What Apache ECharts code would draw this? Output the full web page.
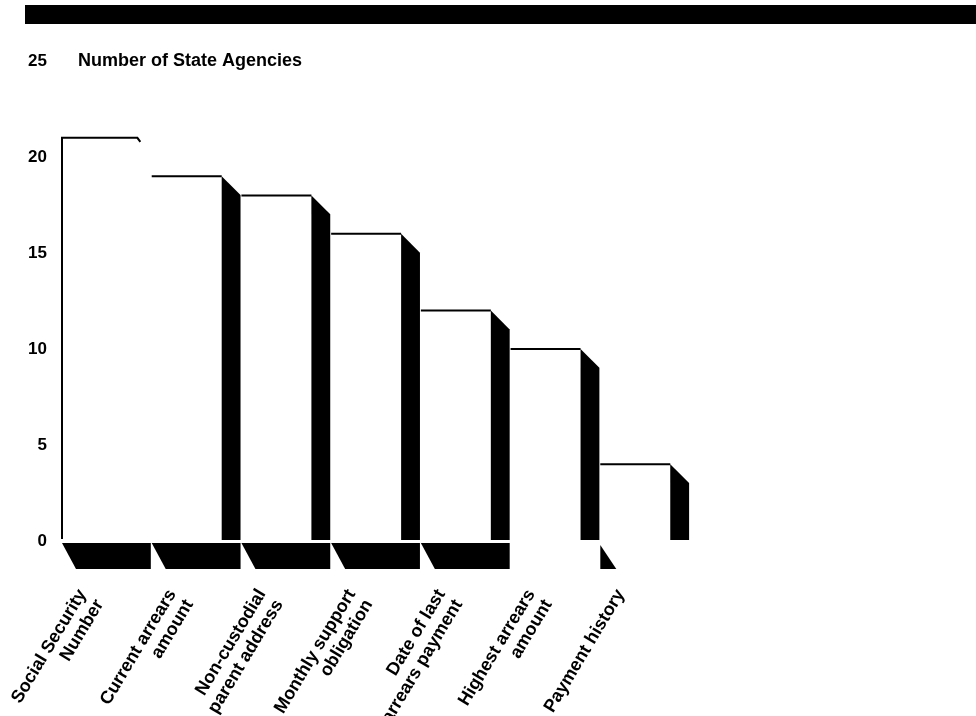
<!DOCTYPE html>
<html>
<head>
<meta charset="utf-8">
<script src="https://cdn.jsdelivr.net/npm/echarts@6/dist/echarts.min.js"></script>
<style>
  html, body { margin: 0; padding: 0; background: #fff; }
  #chart { width: 976px; height: 716px; }
</style>
</head>
<body>
<div id="chart"></div>
<script>
let categories = [
  "Social Security\nNumber",
  "Current arrears\namount",
  "Non-custodial\nparent address",
  "Monthly support\nobligation",
  "Date of last\narrears payment",
  "Highest arrears\namount",
  "Payment history",
];
let agencies = [21, 19, 18, 16, 12, 10, 4];
let yTitle = "Number of State Agencies";

let font = "Liberation Sans";

// 3d-ish bar : white front with a top edge, black side, black floor shadow
// (in the scan the first side and the last floors got lost, kept like that)
let renderBar = function (params, api) {
  let i = api.value(0);
  let top = api.coord([i, api.value(1)]);
  let base = api.coord([i, 0]);
  let band = api.size([1, 0])[0];
  let x0 = top[0] - band / 2;
  let front = band * 0.78;
  let side = band * 0.21;
  let children = [];

  if (i === 0) {
    // first bar has no side, its front is a bit wider
    let w = band * 0.84;
    children.push({
      type: "polyline",
      shape: {
        points: [
          [x0, base[1] - 2],
          [x0, top[1]],
          [x0 + w, top[1]],
          [x0 + w + 3, top[1] + 4],
        ],
      },
      style: { stroke: "#000", lineWidth: 2, fill: null },
    });
  } else {
    children.push({
      type: "line",
      shape: { x1: x0, y1: top[1], x2: x0 + front, y2: top[1] },
      style: { stroke: "#000", lineWidth: 2 },
    });
    children.push({
      type: "polygon",
      shape: {
        points: [
          [x0 + front, top[1]],
          [x0 + front + side, top[1] + side],
          [x0 + front + side, base[1] - 1],
          [x0 + front, base[1] - 1],
        ],
      },
      style: { fill: "#000" },
    });
  }

  if (i < 5) {
    children.push({
      type: "polygon",
      shape: {
        points: [
          [x0, base[1] + 2],
          [x0 + front + side, base[1] + 2],
          [x0 + front + side, base[1] + 28],
          [x0 + 14, base[1] + 28],
        ],
      },
      style: { fill: "#000" },
    });
  } else if (i === 6) {
    children.push({
      type: "polygon",
      shape: {
        points: [
          [x0, base[1] + 4],
          [x0, base[1] + 28],
          [x0 + 16, base[1] + 28],
        ],
      },
      style: { fill: "#000" },
    });
  }

  return { type: "group", children: children };
};

let myChart = echarts.init(document.getElementById("chart"));

let option = {
  backgroundColor: "#fff",
  animation: false,
  graphic: [
    {
      type: "rect",
      shape: { x: 25, y: 5, width: 951, height: 19 },
      style: { fill: "#000" },
    },
    {
      type: "text",
      x: 78,
      y: 61,
      style: {
        text: yTitle,
        fill: "#000",
        font: "bold 18px " + font,
        verticalAlign: "middle",
      },
    },
  ],
  grid: { left: 62, right: 286, top: 61, bottom: 175, outerBoundsMode: "none" },
  xAxis: {
    type: "category",
    data: categories,
    axisLine: { show: false },
    axisTick: { show: false },
    axisLabel: {
      interval: 0,
      rotate: 59,
      align: "right",
      verticalAlign: "top",
      margin: -10,
      padding: [0, 64, 0, 0],
      lineHeight: 20,
      color: "#000",
      fontFamily: font,
      fontWeight: "bold",
      fontSize: 18,
    },
  },
  yAxis: {
    type: "value",
    min: 0,
    max: 25,
    interval: 5,
    axisLine: { show: false },
    axisTick: { show: false },
    splitLine: { show: false },
    axisLabel: {
      margin: 15,
      color: "#000",
      fontFamily: font,
      fontWeight: "bold",
      fontSize: 17,
    },
  },
  series: [
    {
      type: "custom",
      renderItem: renderBar,
      data: agencies.map((v, i) => [i, v]),
    },
  ],
};

option && myChart.setOption(option);
</script>
</body>
</html>
